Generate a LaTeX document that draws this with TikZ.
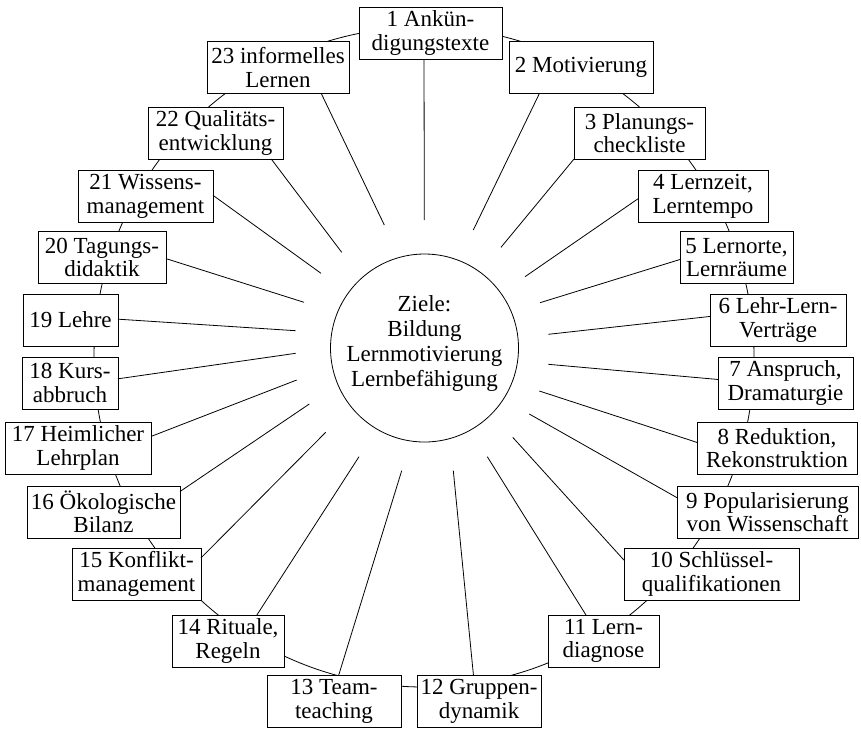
\documentclass[tikz,border=0pt]{standalone}
\usepackage{fontspec}
\setmainfont{Liberation Serif}
\begin{document}
\begin{tikzpicture}[x=1pt,y=-1pt,
  box/.style={draw, fill=white, line width=0.9pt, align=center,
    inner xsep=2pt, inner ysep=2pt, outer sep=0pt, minimum height=52pt,
    font=\fontsize{23}{23.5}\selectfont},
  ray/.style={line width=0.8pt},
  ring/.style={line width=0.8pt}]
\useasboundingbox (0,0) rectangle (861,729);

% outer ring that links the topics
\coordinate (mid) at (424,357);
\draw[ring] (mid) circle[radius=330];

% topic boxes, clockwise from the top
\node[box, minimum width=143pt] (b1)  at (430.5,33)   {1 Ankün-\\digungstexte};
\node[box, minimum width=144pt] (b2)  at (581,67.5)   {2 Motivierung};
\node[box, minimum width=131pt] (b3)  at (639.5,133)  {3 Planungs-\\checkliste};
\node[box, minimum width=130pt] (b4)  at (703,196.5)  {4 Lernzeit,\\Lerntempo};
\node[box, minimum width=113pt] (b5)  at (736.5,257.5){5 Lernorte,\\Lernräume};
\node[box, minimum width=136pt] (b6)  at (778,320)    {6 Lehr-Lern-\\Verträge};
\node[box, minimum width=135pt] (b7)  at (785.5,383)  {7 Anspruch,\\Dramaturgie};
\node[box, minimum width=160pt] (b8)  at (777,448)    {8 Reduktion,\\Rekonstruktion};
\node[box, minimum width=181pt] (b9)  at (767.5,512)  {9 Popularisierung\\von Wissenschaft};
\node[box, minimum width=175pt] (b10) at (711.5,574)  {10 Schlüssel-\\qualifikationen};
\node[box, minimum width=111pt] (b11) at (603.5,641)  {11 Lern-\\diagnose};
\node[box, minimum width=124pt] (b12) at (479,701.5)  {12 Gruppen-\\dynamik};
\node[box, minimum width=134pt] (b13) at (334,701.5)  {13 Team-\\teaching};
\node[box, minimum width=112pt] (b14) at (228,641)    {14 Rituale,\\Regeln};
\node[box, minimum width=129pt] (b15) at (136.5,574)  {15 Konflikt-\\management};
\node[box, minimum width=153pt] (b16) at (103.5,512)  {16 Ökologische\\Bilanz};
\node[box, minimum width=146pt] (b17) at (78,448)     {17 Heimlicher\\Lehrplan};
\node[box, minimum width=96pt]  (b18) at (70,383)     {18 Kurs-\\abbruch};
\node[box, minimum width=95pt]  (b19) at (70.5,320)   {19 Lehre};
\node[box, minimum width=128pt] (b20) at (102,257.5)  {20 Tagungs-\\didaktik};
\node[box, minimum width=135pt] (b21) at (145.5,196.5){21 Wissens-\\management};
\node[box, minimum width=135pt] (b22) at (215.5,133)  {22 Qualitäts-\\entwicklung};
\node[box, minimum width=142pt] (b23) at (278,67.5)   {23 informelles\\Lernen};

% central goal
\node[draw, circle, line width=0.8pt, minimum size=188pt, inner sep=0pt] (ziel) at (424.5,348) {};
\node[align=center, font=\fontsize{23}{25}\selectfont] (zieltext)
  at ([yshift=5pt]ziel.center) {Ziele:\\Bildung\\Lernmotivierung\\Lernbefähigung};

% inner ends of the rays
\coordinate (e1)  at (424.3,220);
\coordinate (e2)  at (473.3,230);
\coordinate (e3)  at (501,247.3);
\coordinate (e4)  at (525,276.7);
\coordinate (e5)  at (540,302.7);
\coordinate (e6)  at (548.3,334.3);
\coordinate (e7)  at (548.3,364.3);
\coordinate (e8)  at (539.3,391);
\coordinate (e9)  at (529.3,414);
\coordinate (e10) at (512.7,437.3);
\coordinate (e11) at (487.3,456.7);
\coordinate (e12) at (453.3,470.7);
\coordinate (e13) at (401.7,470.7);
\coordinate (e14) at (359,456.7);
\coordinate (e15) at (325.7,432.3);
\coordinate (e16) at (309.3,404);
\coordinate (e17) at (296.7,380);
\coordinate (e18) at (295.7,353.3);
\coordinate (e19) at (295.7,330.7);
\coordinate (e20) at (304,302.3);
\coordinate (e21) at (321,273.3);
\coordinate (e22) at (341.7,252.3);
\coordinate (e23) at (384.3,225);

% rays from each box towards the goal
\foreach \i/\a in {1/256, 2/212, 3/south west, 4/182.2, 5/182.5, 6/177.7,
    7/177.5, 8/176.2, 9/171, 10/171.6, 11/124, 12/102.6, 13/80.4,
    14/42.9, 15/14.4, 16/15.5, 17/9.2, 18/5.6, 19/1.2, 20/359.3,
    21/1.3, 22/335.6, 23/329.7}
  \draw[ray] (b\i.\a) -- (e\i);
\end{tikzpicture}
\end{document}
